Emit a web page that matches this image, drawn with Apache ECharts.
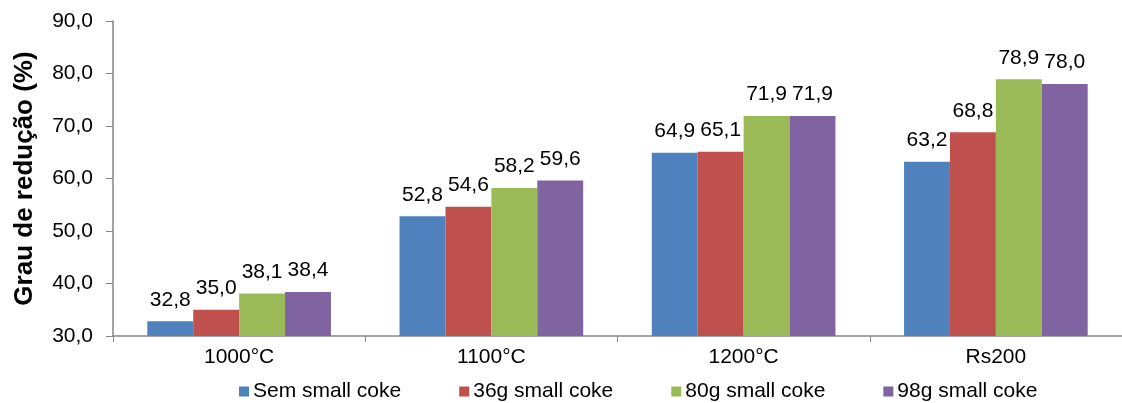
<!DOCTYPE html>
<html><head><meta charset="utf-8">
<script src="https://cdn.jsdelivr.net/npm/echarts@6/dist/echarts.min.js"></script>
<style>html,body{margin:0;padding:0;background:#fff}#c{width:1122px;height:403px}</style>
</head><body><div id="c"></div>
<script>
const categories = ['1000°C', '1100°C', '1200°C', 'Rs200'];
const seriesNames = ['Sem small coke', '36g small coke', '80g small coke', '98g small coke'];
const semSmallCoke = [32.8, 52.8, 64.9, 63.2];
const g36SmallCoke = [35.0, 54.6, 65.1, 68.8];
const g80SmallCoke = [38.1, 58.2, 71.9, 78.9];
const g98SmallCoke = [38.4, 59.6, 71.9, 78.0];
const yTicks = [30, 40, 50, 60, 70, 80, 90];
const colors = ['#4F81BD', '#C0504D', '#9BBB59', '#8064A2'];
const values = [semSmallCoke, g36SmallCoke, g80SmallCoke, g98SmallCoke];
const font = 'Liberation Sans, Arial, sans-serif';
const fmt = v => v.toFixed(1).replace('.', ',');
const chart = echarts.init(document.getElementById('c'));
chart.setOption({
  animation: false,
  color: colors,
  textStyle: {fontFamily: font},
  grid: {left: 113, right: -6, top: 21, bottom: 67, containLabel: false},
  legend: {
    top: 381, left: 239, itemWidth: 10, itemHeight: 10, itemGap: 58,
    icon: 'rect', padding: 0,
    textStyle: {fontFamily: font, fontSize: 21, color: '#000', padding: [0, 0, 0, -1]},
    data: seriesNames
  },
  xAxis: {
    type: 'category', data: categories,
    axisLine: {lineStyle: {color: '#868686', width: 1.5}},
    axisTick: {show: true, length: 6, lineStyle: {color: '#868686'}},
    axisLabel: {fontSize: 21, color: '#000', margin: 11, fontFamily: font}
  },
  yAxis: {
    type: 'value', min: yTicks[0], max: yTicks[yTicks.length - 1], interval: 10,
    name: 'Grau de redução (%)', nameLocation: 'middle', nameGap: 75,
    nameTextStyle: {fontSize: 26, fontWeight: 'bold', color: '#000', fontFamily: font},
    axisLine: {show: true, lineStyle: {color: '#868686', width: 1.5}},
    axisTick: {show: true, length: 7, lineStyle: {color: '#868686'}},
    splitLine: {show: false},
    axisLabel: {fontSize: 21, color: '#000', margin: 20, formatter: v => fmt(v), fontFamily: font}
  },
  series: values.map((d, i) => ({
    name: seriesNames[i], type: 'bar', data: d,
    barGap: '0%', barCategoryGap: '27.2%',
    itemStyle: {color: colors[i]},
    label: {show: true, position: 'top', distance: 11, fontSize: 21, color: '#000', fontFamily: font, formatter: p => fmt(p.value)}
  }))
});
</script></body></html>
